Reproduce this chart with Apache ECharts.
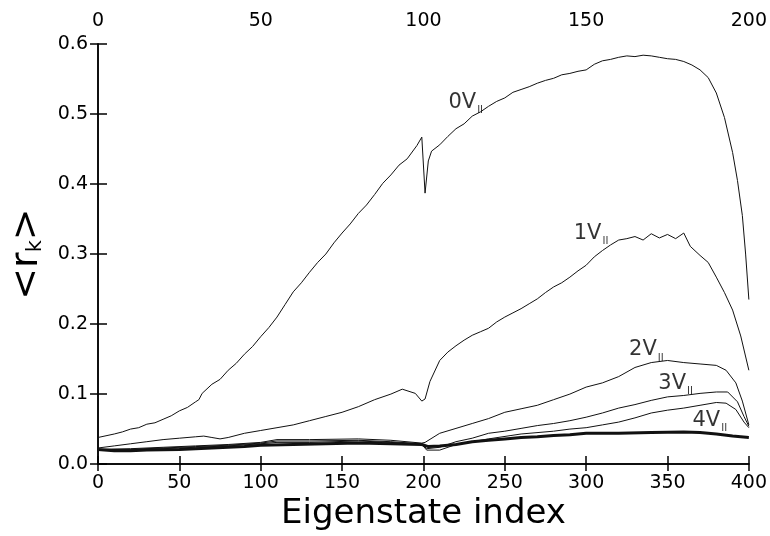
<!DOCTYPE html>
<html><head><meta charset="utf-8">
<script src="https://cdn.jsdelivr.net/npm/echarts/dist/echarts.min.js"></script>
<style>html,body{margin:0;padding:0;background:#fff}#c{width:770px;height:536px}</style>
</head><body><div id="c"></div>
<script>
// Data: [eigenstate index, <r_k>]
const s0V = [[0,0.038],[10,0.043],[15,0.046],[20,0.050],[25,0.052],[30,0.057],[35,0.059],[40,0.064],[45,0.069],[50,0.076],[55,0.081],[60,0.089],[62,0.092],[64,0.101],[70,0.114],[75,0.121],[80,0.134],[85,0.144],[90,0.157],[95,0.168],[100,0.182],[105,0.195],[110,0.210],[115,0.228],[120,0.246],[125,0.259],[130,0.274],[135,0.288],[140,0.300],[145,0.316],[150,0.330],[155,0.343],[160,0.358],[165,0.370],[170,0.385],[175,0.401],[180,0.413],[185,0.427],[190,0.436],[196,0.455],[199,0.467],[201,0.387],[203,0.433],[205,0.447],[210,0.456],[215,0.468],[220,0.479],[225,0.486],[230,0.497],[235,0.503],[240,0.511],[245,0.518],[250,0.523],[255,0.531],[260,0.535],[265,0.539],[270,0.544],[275,0.548],[280,0.551],[285,0.556],[290,0.558],[295,0.561],[300,0.563],[305,0.571],[310,0.576],[315,0.578],[320,0.581],[325,0.583],[330,0.582],[335,0.584],[340,0.583],[345,0.581],[350,0.579],[355,0.578],[360,0.575],[365,0.570],[370,0.563],[375,0.552],[380,0.530],[385,0.495],[390,0.445],[393,0.405],[396,0.355],[398,0.300],[400,0.235]];
const s1V = [[0,0.023],[10,0.026],[20,0.029],[30,0.032],[40,0.035],[50,0.037],[60,0.039],[65,0.040],[70,0.038],[75,0.036],[80,0.038],[90,0.044],[100,0.048],[110,0.052],[120,0.056],[130,0.062],[140,0.068],[150,0.074],[160,0.082],[170,0.092],[180,0.100],[187,0.107],[195,0.101],[199,0.090],[201,0.093],[204,0.118],[210,0.148],[215,0.160],[220,0.169],[225,0.177],[230,0.184],[235,0.189],[240,0.194],[245,0.203],[250,0.210],[255,0.216],[260,0.222],[265,0.229],[270,0.236],[275,0.245],[280,0.253],[285,0.259],[290,0.267],[295,0.276],[300,0.284],[305,0.296],[310,0.305],[315,0.313],[320,0.320],[325,0.322],[330,0.325],[335,0.320],[340,0.329],[345,0.323],[350,0.328],[355,0.322],[360,0.330],[364,0.311],[370,0.298],[375,0.288],[380,0.267],[385,0.245],[390,0.220],[395,0.183],[400,0.134]];
const s2V = [[0,0.021],[20,0.022],[40,0.024],[60,0.026],[80,0.028],[100,0.031],[110,0.035],[130,0.035],[160,0.036],[180,0.034],[199,0.030],[201,0.031],[210,0.044],[220,0.051],[230,0.058],[240,0.065],[250,0.074],[260,0.079],[270,0.084],[280,0.092],[290,0.100],[300,0.110],[310,0.116],[320,0.125],[330,0.138],[340,0.145],[350,0.148],[360,0.145],[370,0.143],[380,0.141],[386,0.134],[392,0.116],[396,0.090],[400,0.056]];
const s3V = [[0,0.021],[20,0.021],[40,0.023],[60,0.025],[80,0.027],[100,0.030],[110,0.033],[130,0.033],[160,0.034],[180,0.032],[199,0.029],[202,0.022],[210,0.024],[220,0.032],[230,0.037],[240,0.044],[250,0.047],[260,0.051],[270,0.055],[280,0.058],[290,0.062],[300,0.067],[310,0.073],[320,0.080],[330,0.085],[340,0.091],[350,0.096],[360,0.098],[370,0.101],[380,0.103],[387,0.103],[393,0.089],[397,0.068],[400,0.054]];
const sThin = [[0,0.021],[20,0.020],[40,0.022],[60,0.024],[80,0.026],[100,0.029],[110,0.031],[130,0.031],[160,0.033],[180,0.031],[199,0.028],[202,0.020],[210,0.020],[220,0.028],[240,0.036],[260,0.043],[280,0.047],[290,0.050],[300,0.052],[310,0.056],[320,0.060],[330,0.066],[340,0.073],[350,0.077],[360,0.080],[370,0.084],[380,0.088],[386,0.087],[392,0.078],[397,0.060],[400,0.052]];
const s4V = [[0,0.021],[10,0.019],[20,0.019],[30,0.020],[50,0.021],[70,0.023],[90,0.025],[100,0.027],[120,0.028],[140,0.029],[160,0.030],[180,0.029],[199,0.028],[203,0.025],[210,0.026],[220,0.028],[230,0.032],[240,0.034],[250,0.036],[260,0.038],[270,0.039],[280,0.041],[290,0.042],[300,0.044],[320,0.044],[340,0.045],[360,0.046],[370,0.045],[380,0.043],[390,0.040],[400,0.038]];
// Curve labels: [x, y, prefix]
const curveLabels = [[226,0.516,'0V'],[303,0.329,'1V'],[337,0.163,'2V'],[355,0.115,'3V'],[376,0.062,'4V']];
const bottomRange = [0, 400, 50];
const topRange = [0, 200, 25];
const yRange = [0, 0.6, 0.1];

const FONT = 'DejaVu Sans';
const chart = echarts.init(document.getElementById('c'), null, {renderer:'canvas'});
const axisLine = {show:true, lineStyle:{color:'#000', width:1.5}};
const lineSeries = (name, data, w) => ({
  name, type:'line', data, xAxisIndex:0, yAxisIndex:0, symbol:'none', animation:false,
  lineStyle:{color:'#111', width:w}, z: 2
});
const labelSeries = {
  type:'scatter', xAxisIndex:0, yAxisIndex:0, symbolSize:0, animation:false, silent:true,
  data: curveLabels.map(d => ({value:[d[0], d[1]], name:d[2]})),
  label:{show:true, position:'inside', color:'#000', formatter: p => '{a|' + p.name + '}{s|II}',
    rich:{a:{fontFamily:FONT, fontSize:21, color:'#000'}, s:{fontFamily:FONT, fontSize:10, color:'#000', padding:[16,0,0,1]}}}
};
chart.setOption({
  backgroundColor:'#fff',
  animation:false,
  grid:{left:98, right:18, top:44, bottom:64},
  xAxis:[
    {type:'value', position:'bottom', min:bottomRange[0], max:bottomRange[1], interval:bottomRange[2],
     axisLine, axisTick:{show:true, inside:true, length:8, lineStyle:{color:'#000', width:1.5}},
     axisLabel:{fontFamily:FONT, fontSize:19, color:'#000', margin:9},
     splitLine:{show:false},
     name:'Eigenstate index', nameLocation:'middle', nameGap:23,
     nameTextStyle:{fontFamily:FONT, fontSize:34, color:'#000'}},
    {type:'value', position:'top', min:topRange[0], max:topRange[1], interval:topRange[2],
     axisLine, axisTick:{show:true, inside:true, length:7, lineStyle:{color:'#000', width:1.5}},
     axisLabel:{fontFamily:FONT, fontSize:19, color:'#000', margin:13, showMinLabel:true, showMaxLabel:true,
       formatter: v => (v % 50 === 0 ? String(v) : '')},
     splitLine:{show:false}}
  ],
  yAxis:[
    {type:'value', position:'left', min:yRange[0], max:yRange[1], interval:yRange[2],
     axisLine, axisTick:{show:true, inside:true, length:9, lineStyle:{color:'#000', width:1.5}},
     axisLabel:{fontFamily:FONT, fontSize:19, color:'#000', margin:10, formatter: v => v.toFixed(1)},
     splitLine:{show:false},
     name:'{a|<r}{s|k}{a|>}', nameLocation:'middle', nameGap:52,
     nameTextStyle:{rich:{a:{fontFamily:FONT, fontSize:38, color:'#000'}, s:{fontFamily:FONT, fontSize:21, color:'#000', padding:[17,0,0,0]}}}},
    {type:'value', position:'right', min:yRange[0], max:yRange[1], interval:yRange[2],
     axisLine, axisTick:{show:true, inside:true, length:8, lineStyle:{color:'#000', width:1.5}},
     axisLabel:{show:false}, splitLine:{show:false}}
  ],
  series:[
    lineSeries('0V', s0V, 1),
    lineSeries('1V', s1V, 1),
    lineSeries('2V', s2V, 1),
    lineSeries('3V', s3V, 1),
    lineSeries('unlabeled', sThin, 1),
    lineSeries('4V', s4V, 3),
    labelSeries
  ]
});
</script></body></html>
